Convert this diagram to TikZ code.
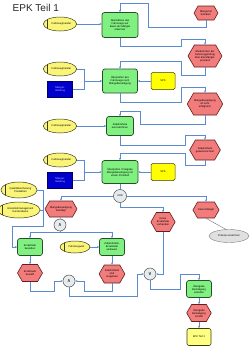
\documentclass[tikz,border=0pt]{standalone}
\usepackage{fontspec}
\setmainfont{Liberation Sans}
\newfontfamily\symfont{DejaVu Sans}
\usetikzlibrary{shapes.geometric,shapes.symbols,arrows.meta,calc}
\definecolor{fnfill}{RGB}{128,240,128}
\definecolor{fnline}{RGB}{40,80,40}
\definecolor{evfill}{RGB}{242,124,124}
\definecolor{evline}{RGB}{100,30,30}
\definecolor{orgfill}{RGB}{250,245,120}
\definecolor{orgline}{RGB}{60,60,20}
\definecolor{isfill}{RGB}{255,255,0}
\definecolor{bluefill}{RGB}{0,0,205}
\definecolor{conncol}{RGB}{90,138,210}
\definecolor{opfill}{RGB}{230,236,238}
\definecolor{piffill}{RGB}{255,255,128}
\newcommand\tinyfont{\fontsize{2.6}{3}\selectfont}
\begin{document}
\begin{tikzpicture}[x=1pt,y=-1pt,
  every node/.style={font=\tinyfont, align=center, inner sep=0.5pt},
  fnbox/.style={draw=fnline, fill=fnfill, line width=0.7pt, rounded corners=2.5pt},
  evbox/.style={draw=evline, fill=evfill, line width=0.6pt, signal, signal to=west and east, signal pointer angle=120},
  orgbox/.style={draw=orgline, fill=orgfill, line width=0.5pt, ellipse, minimum width=31pt, minimum height=14pt,
     path picture={\draw[orgline, line width=0.4pt] ([xshift=4pt]path picture bounding box.south west) -- ([xshift=4pt]path picture bounding box.north west);}},
  isbox/.style={draw=orgline, fill=isfill, line width=0.5pt, rounded corners=1.5pt, minimum width=24pt, minimum height=17pt},
  bluebox/.style={draw=blue!40!black, fill=bluefill, text=blue!25!white, line width=0.5pt, minimum width=25pt, minimum height=16pt},
  opnode/.style={draw=black!70, fill=opfill, line width=0.5pt, circle, minimum size=12pt, inner sep=0pt},
  conn/.style={draw=conncol, line width=0.5pt},
  arr/.style={conn, -{Stealth[length=2.2pt,width=2pt]}}
]
\fill[white] (0,0) rectangle (250,348);
\useasboundingbox (0,0) rectangle (250,348);

\node[anchor=west, font=\fontsize{10}{12}\selectfont, text=black!85] (title) at (12,8) {EPK Teil 1};

% row 1
\node[orgbox] (O1) at (60,24) {\hspace{3pt}Fahrzeugmeister};
\node[fnbox, minimum width=36pt, minimum height=25pt] (F1) at (120,25) {Abschätzen des\\Fahrzeugs auf\\Basis der Mängel\\erkennen};
\node[evbox, minimum width=24pt, minimum height=14pt] (E1) at (206,13) {Mangel ist\\behoben};
\node[evbox, minimum width=34pt, minimum height=22pt] (E2) at (205,56) {Wiederholen der\\Fahrzeugprüfung\\über das Mängel-\\protokoll};

% row 2
\node[orgbox] (O2) at (60,69) {\hspace{3pt}Fahrzeugmeister};
\node[bluebox] (B1) at (60,89) {Mängel-\\meldung};
\node[fnbox, minimum width=35pt, minimum height=24pt] (F2) at (120,81) {Überprüfen des\\Fahrzeugs nach\\Mängelbeseitigung};
\node[isbox] (I1) at (163,81) {SPS};
\node[evbox, minimum width=32pt, minimum height=22pt] (E3) at (205,104) {Mängelbeseitigung\\ist nicht\\erfolgreich};

% row 3
\node[orgbox] (O3) at (60,126) {\hspace{3pt}Fahrzeugmeister};
\node[fnbox, minimum width=27pt, minimum height=19pt] (F3) at (120,126) {Zubehörteile\\kennzeichnen};
\node[evbox, minimum width=27pt, minimum height=20pt] (E4) at (205,150) {Zubehörteile\\gekennzeichnet};

% row 4
\node[orgbox] (O4) at (60,160) {\hspace{3pt}Fahrzeugmeister};
\node[bluebox] (B2) at (60,180) {Mängel-\\meldung};
\node[fnbox, minimum width=36pt, minimum height=23pt] (F4) at (120,172) {Überprüfen / Freigabe\\Mängelbeseitigung mit\\einem Protokoll};
\node[isbox] (I2) at (163,172) {SPS};
\node[opnode, minimum size=13pt] (X1) at (120,196) {XOR};

% left org units
\node[orgbox, minimum width=35pt, minimum height=16pt] (O5) at (19,190) {\hspace{3pt}Qualitätssicherung\\\hspace{3pt}Produktion};
\node[orgbox, minimum width=35pt, minimum height=16pt] (O6) at (19,210) {\hspace{3pt}Ersatzteilmanagement\\\hspace{3pt}Kundendienst};

% XOR outputs
\node[evbox, minimum width=24pt, minimum height=16pt] (E5) at (61,209) {Mängelbeseitigung\\bestätigt};
\node[evbox, minimum width=24pt, minimum height=16pt] (E6) at (206,210) {Keine Mängel};
\node[draw=black!50, fill=black!12, line width=0.4pt, ellipse, minimum width=40pt, minimum height=13pt] (G1) at (229,236) {Prozess endet hier};
\node[evbox, minimum width=24pt, minimum height=19pt] (E7) at (163,222) {Keine\\Ersatzteile\\vorhanden};

% AND split
\node[opnode] (A1) at (60,225) {\symfont\fontsize{5}{5}\selectfont ∧};
\node[fnbox, minimum width=25pt, minimum height=17pt] (F5) at (30,247) {Ersatzteile\\bestellen};
\node[orgbox, minimum width=30pt, minimum height=12pt] (O7) at (75,247) {\hspace{3pt}Fahrzeugwart};
\node[fnbox, minimum width=25pt, minimum height=17pt] (F6) at (112,247) {Zubehörteile,\\Ersatzteile\\einbauen};
\node[evbox, minimum width=25pt, minimum height=17pt] (E8) at (30,273) {Ersatzteile\\bestellt};
\node[evbox, minimum width=25pt, minimum height=18pt] (E9) at (112,274) {Zubehörteile\\sind\\eingebaut};
\node[opnode] (A2) at (69,281) {\symfont\fontsize{5}{5}\selectfont ∧};
\node[opnode] (V1) at (150,274) {\symfont\fontsize{5}{5}\selectfont ∨};

% final
\node[fnbox, minimum width=25pt, minimum height=17pt] (F7) at (199,289) {Übergabe\\Bestätigung\\erstellen};
\node[evbox, minimum width=24pt, minimum height=17pt] (E10) at (199,313) {Übergabe\\Bestätigung\\erstellt};
\node[draw=orgline, fill=piffill, line width=0.6pt, rounded corners=2pt, minimum width=24pt, minimum height=17pt] (P1) at (199,337) {EPK Teil 2};

% connectors
\draw[arr] (O1.east) -- (O1.east -| F1.west);
\draw[arr] (E1.south) |- (148,27) |- (120,3) -- (F1.north);
\draw[arr] (F1.south) |- (181,46) |- (205,39) -- (E2.north);
\draw[arr] (E2.south) |- (181,75) |- (120,61) -- (F2.north);
\draw[arr] (O2.east) -| (84,81) -- (F2.west);
\draw[conn] (B1.east) -| (84,81);
\draw[arr] (I1.west) -- (F2.east);
\draw[arr] (F2.south) |- (181,102) |- (205,87) -- (E3.north);
\draw[arr] (E3.south) |- (140,124) |- (120,111) -- (F3.north);
\draw[arr] (O3.east) -- (F3.west);
\draw[arr] (F3.south) |- (185,145) |- (205,135) -- (E4.north);
\draw[arr] (E4.south) |- (185,165) |- (120,153) -- (F4.north);
\draw[arr] (O4.east) -| (84,172) -- (F4.west);
\draw[conn] (B2.east) -| (84,172);
\draw[arr] (I2.west) -- (F4.east);
\draw[conn] (F4.south) -- (X1.north);
\draw[arr] (X1.west) -| (E5.north);
\draw[arr] (X1.east) -| (E6.north);
\draw[arr] (X1.south) |- (163,207) -- (E7.north);
\draw[black!55, line width=0.4pt] (E6.south) -- (G1.115);
\draw[arr] (O5.east) -| (43,226) -| (12,247) -- (F5.west);
\draw[conn] (O6.east) -- (43,210);
\draw[conn] (E5.south) -- (A1.north);
\draw[arr] (A1.south) -- (60,232) -| (F5.north);
\draw[arr] (60,232) -| (F6.north);
\draw[arr] (O7.east) -- (F6.west);
\draw[arr] (F5.south) -- (E8.north);
\draw[arr] (F6.south) -- (E9.north);
\draw[arr] (E8.south) |- (54,291) |- (A2.west);
\draw[arr] (E9.south) |- (84,291) |- (A2.east);
\draw[arr] (A2.south) |- (137,296) |- (V1.west);
\draw[arr] (E7.south) |- (V1.east);
\draw[arr] (V1.south) |- (180,289) |- (199,274) -- (F7.north);
\draw[arr] (F7.south) -- (E10.north);
\draw[arr] (E10.south) -- (P1.north);
\end{tikzpicture}
\end{document}
